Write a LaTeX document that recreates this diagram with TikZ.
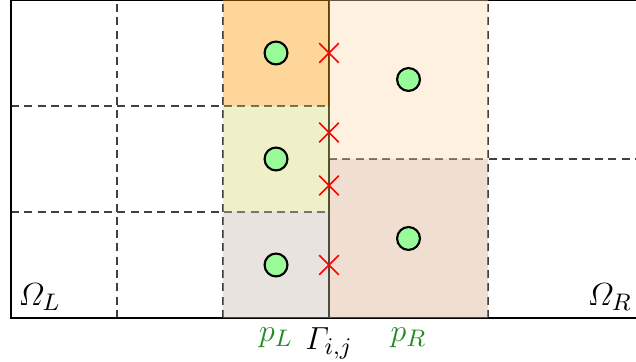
\documentclass[tikz,border=0pt]{standalone}
\usepackage{amsmath,amssymb}
\usetikzlibrary{shapes.misc}

\definecolor{cellLa}{RGB}{252,152,0}
\definecolor{cellLb}{RGB}{217,217,117}
\definecolor{cellLc}{RGB}{197,185,172}
\definecolor{cellRa}{RGB}{255,220,177}
\definecolor{cellRb}{RGB}{217,175,137}
\definecolor{dofgreen}{RGB}{152,251,152}
\definecolor{labgreen}{RGB}{34,139,34}

\begin{document}
\begin{tikzpicture}[x=1.4cm,y=1.4cm,
  every node/.style={font=\fontsize{12.5}{15}\selectfont},
  gridline/.style={draw=black!75,dash pattern=on 3pt off 2pt},
  border/.style={line width=1.1pt},
  cell/.style={fill opacity=0.4},
  dof/.style={circle,draw,thick,fill=dofgreen,minimum size=8.6pt,inner sep=0pt},
  qpoint/.style={cross out,draw=red,semithick,minimum size=6.8pt,inner sep=0pt}]
  \useasboundingbox (-0.104,-0.415) rectangle (5.896,3);
  % meshes
  \foreach \x in {1,2} { \draw[gridline] (\x,0) -- (\x,3); }
  \foreach \y in {1,2} { \draw[gridline] (0,\y) -- (3,\y); }
  \draw[gridline] (4.5,0) -- (4.5,3);
  \draw[gridline] (3,1.5) -- (6,1.5);
  \draw[border] (6,3) -- (0,3) -- (0,0) -- (6,0);
  \draw[border] (3,0) -- (3,3);
  % cells at the interface
  \fill[cell,cellLa] (2,2) rectangle (3,3);
  \fill[cell,cellLb] (2,1) rectangle (3,2);
  \fill[cell,cellLc] (2,0) rectangle (3,1);
  \fill[cell,cellRa] (3,1.5) rectangle (4.5,3);
  \fill[cell,cellRb] (3,0) rectangle (4.5,1.5);
  % unknowns
  \foreach \y [count=\i] in {2.5,1.5,0.5} { \node[dof] (pl\i) at (2.5,\y) {}; }
  \foreach \y [count=\i] in {2.25,0.75} { \node[dof] (pr\i) at (3.75,\y) {}; }
  % quadrature points on the interface
  \foreach \y [count=\i] in {2.5,1.75,1.25,0.5} { \node[qpoint] (q\i) at (3,\y) {}; }
  \node (omL) at (0.27,0.2) {$\varOmega_L$};
  \node (omR) at (5.65,0.2) {$\varOmega_R$};
  \node[below,text=labgreen] (pL) at (2.5,0) {$p_L$};
  \node[below] (gam) at (3,0) {$\varGamma_{i,j}$};
  \node[below,text=labgreen] (pR) at (3.75,0) {$p_R$};
\end{tikzpicture}
\end{document}
